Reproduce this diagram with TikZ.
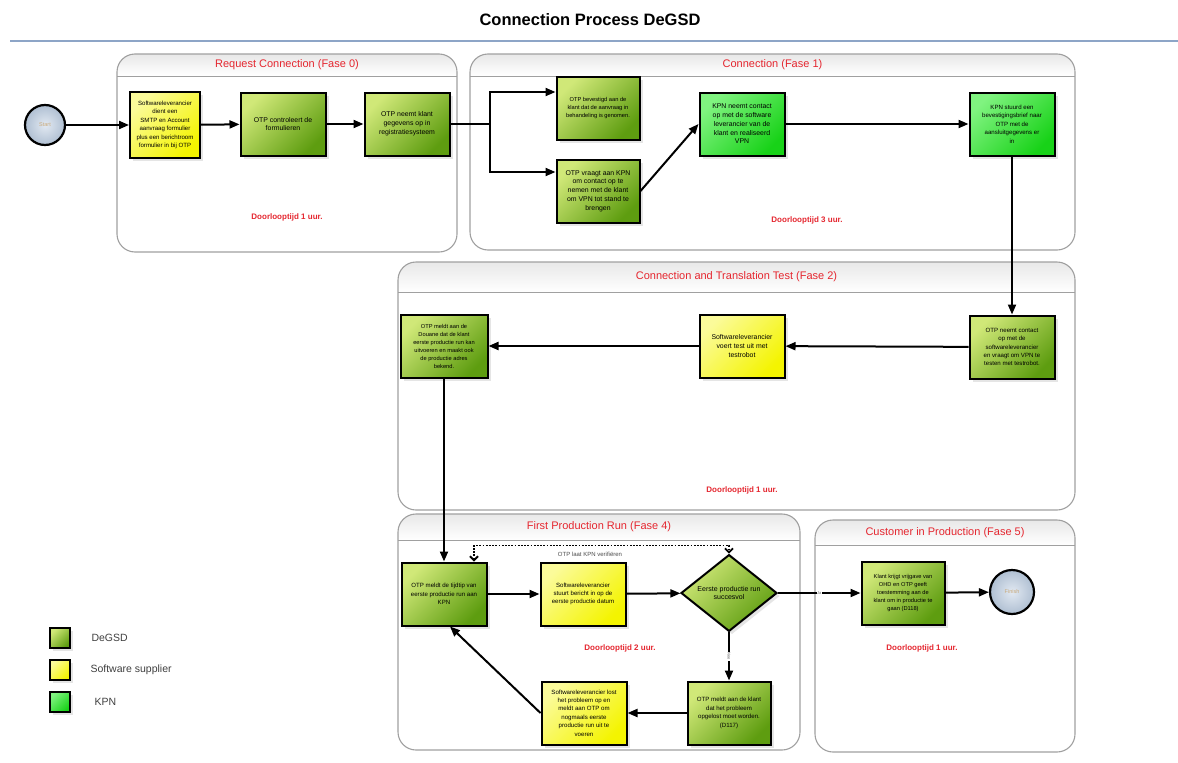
\documentclass[tikz,border=0pt]{standalone}
\usepackage{fontspec}
\setmainfont{Liberation Sans}
\usepackage{xcolor}
\usetikzlibrary{shapes.geometric, arrows.meta, positioning, calc, shadows}

\definecolor{degsdlight}{HTML}{D0E878}
\definecolor{degsddark}{HTML}{5E9D10}
\definecolor{suplight}{HTML}{FBFB9A}
\definecolor{supdark}{HTML}{F4F400}
\definecolor{kpnlight}{HTML}{80F380}
\definecolor{kpndark}{HTML}{18D218}
\definecolor{phasered}{HTML}{E5262F}
\definecolor{framegray}{HTML}{A0A0A0}
\definecolor{titleline}{HTML}{8DA5C7}
\definecolor{eventin}{HTML}{E2E9F2}
\definecolor{eventout}{HTML}{AFBFD2}
\definecolor{eventtext}{HTML}{C9A97A}

\begin{document}
\begin{tikzpicture}[x=1pt, y=-1pt,
    box/.style={draw=black, line width=2pt, align=center, inner sep=1pt,
        font=\fontsize{6.9}{8.8}\selectfont,
        drop shadow={opacity=0.2, shadow xshift=3pt, shadow yshift=-3pt}},
    std/.style={minimum width=85pt, minimum height=63pt},
    small/.style={font=\fontsize{6.1}{8.4}\selectfont},
    narrow/.style={font=\fontsize{5.7}{8}\selectfont},
    degsd/.style={box, top color=degsdlight, bottom color=degsddark, shading angle=45},
    supplier/.style={box, top color=suplight, bottom color=supdark, shading angle=45},
    kpn/.style={box, top color=kpnlight, bottom color=kpndark, shading angle=45},
    decision/.style={degsd, diamond, minimum width=96pt, minimum height=64pt, inner sep=0pt,
        font=\fontsize{7}{8.6}\selectfont},
    event/.style={circle, draw=black, line width=2.2pt, inner color=eventin, outer color=eventout,
        minimum size=40pt, font=\fontsize{5.5}{6}\selectfont, text=eventtext},
    phase/.style={draw=framegray, line width=1.1pt, rounded corners=18pt},
    phasetitle/.style={text=phasered, font=\fontsize{11}{13}\selectfont},
    duration/.style={text=phasered, font=\bfseries\fontsize{8}{10}\selectfont},
    flow/.style={draw=black, line width=2pt, -{Triangle[length=10pt, width=8pt]}},
    link/.style={draw=black, line width=2pt},
    verify/.style={draw=black, line width=1.8pt, dash pattern=on 1.8pt off 1.4pt,
        {Straight Barb[length=4pt, width=8pt]}-{Straight Barb[length=4pt, width=8pt]}},
    choice/.style={fill=white, inner sep=0.5pt, text=black!60, font=\fontsize{4}{4}\selectfont},
    legendtext/.style={text=black!75, font=\fontsize{10.5}{12}\selectfont}]

\fill[white] (0,0) rectangle (1178,763);
\useasboundingbox (0,0) rectangle (1178,763);

% Title
\node[font=\bfseries\fontsize{16.5}{18}\selectfont] (title) at (590,20) {Connection Process DeGSD};
\coordinate (ruleL) at (10,41);
\coordinate (ruleR) at (1178,41);
\draw[titleline, line width=1.8pt] (ruleL) -- (ruleR);

% Phases
\foreach \i/\xa/\ya/\xb/\yb/\hy/\name in {
    0/117/54/457/252/76/Request Connection (Fase 0),
    1/470/54/1075/250/76/Connection (Fase 1),
    2/398/262/1075/510/292/Connection and Translation Test (Fase 2),
    4/398/514/800/750/540/First Production Run (Fase 4),
    5/815/520/1075/752/545/Customer in Production (Fase 5)} {
    \begin{scope}
        \clip[rounded corners=18pt] (\xa,\ya) rectangle (\xb,\yb);
        \fill[top color=black!9, bottom color=white] (\xa,\ya) rectangle (\xb,\hy);
    \end{scope}
    \draw[phase] (\xa,\ya) rectangle (\xb,\yb);
    \draw[framegray, line width=0.8pt] (\xa,\hy) -- (\xb,\hy);
    \node[phasetitle] (title\i) at ({(\xa+\xb)/2},{(\ya+\hy)/2}) {\name};
}

% Fase 0
\node[event] (start) at (45,125) {Start};
\node[supplier, small, minimum width=70pt, minimum height=66pt] (s1) at (165,125)
    {Softwareleverancier\\dient een\\SMTP en Account\\aanvraag formulier\\plus een berichtroom\\formulier in bij OTP};
\node[degsd, std] (o1) at (283,124) {OTP controleert de\\formulieren};
\node[degsd, std] (o2) at (407,124) {OTP neemt klant\\gegevens op in\\registratiesysteem};
\node[duration] (dl0) at (287,217) {Doorlooptijd 1 uur.};

% Fase 1
\node[degsd, std, narrow, minimum width=83pt] (conf) at (598,108)
    {OTP bevestigd aan de\\klant dat de aanvraag in\\behandeling is genomen.};
\node[degsd, std, minimum width=83pt] (ask) at (598,191)
    {OTP vraagt aan KPN\\om contact op te\\nemen met de klant\\om VPN tot stand te\\brengen};
\node[kpn, std] (kpn1) at (742,124)
    {KPN neemt contact\\op met de software\\leverancier van de\\klant  en realiseerd\\VPN};
\node[kpn, std, small] (kpn2) at (1012,124)
    {KPN stuurd een\\bevestigingsbrief naar\\OTP met de\\aansluitgegevens er\\in};
\node[duration] (dl1) at (807,220) {Doorlooptijd 3 uur.};

% Fase 2
\node[degsd, std, small] (test) at (1012,347)
    {OTP neemt contact\\op met de\\softwareleverancier\\en vraagt om VPN te\\testen met testrobot.};
\node[supplier, std] (robot) at (742,346) {Softwareleverancier\\voert test uit met\\testrobot};
\node[degsd, std, narrow, minimum width=87pt] (douane) at (444,346)
    {OTP meldt aan de\\Douane dat de klant\\eerste productie run kan\\uitvoeren en maakt ook\\de productie adres\\bekend.};
\node[duration] (dl2) at (742,490) {Doorlooptijd 1 uur.};

% Fase 4
\node[degsd, std, small] (tijd) at (444,594)
    {OTP meldt de tijdtip  van\\eerste productie run aan\\KPN};
\node[supplier, std, small] (bericht) at (583,594)
    {Softwareleverancier\\stuurt bericht in op de\\eerste productie datum};
\node[decision] (succes) at (729,593) {Eerste productie run\\succesvol};
\node[degsd, std, small, minimum width=83pt] (probleem) at (729,713)
    {OTP meldt aan de klant\\dat het probleem\\opgelost moet worden.\\(D117)};
\node[supplier, std, small] (lost) at (584,713)
    {Softwareleverancier lost\\het probleem op en\\meldt aan OTP om\\nogmaals eerste\\productie run uit te\\voeren};
\node[duration] (dl4) at (620,648) {Doorlooptijd 2 uur.};
\node[text=black!70, font=\fontsize{6}{7}\selectfont] (verifylabel) at (590,554) {OTP laat KPN verifiëren};

% Fase 5
\node[degsd, std, narrow, minimum width=83pt] (vrij) at (903,593)
    {Klant krijgt  vrijgave van\\OHD en OTP geeft\\toestemming aan de\\klant om in productie te\\gaan (D118)};
\node[event, minimum size=44pt] (finish) at (1012,592) {Finish};
\node[duration] (dl5) at (922,648) {Doorlooptijd 1 uur.};

% Connectors
\coordinate (split) at (490,124);
\draw[flow] (start) -- (s1);
\draw[flow] (s1) -- (o1);
\draw[flow] (o1) -- (o2);
\draw[link] (o2) -- (split);
\draw[flow] (split) |- ([yshift=16pt]conf.west);
\draw[flow] (split) |- ([yshift=19pt]ask.west);
\draw[flow] (ask.east) -- (kpn1.west);
\draw[flow] (kpn1) -- (kpn2);
\draw[flow] (kpn2) -- (test);
\draw[flow] (test) -- (robot);
\draw[flow] (robot) -- (douane);
\draw[flow] (douane) -- (tijd);
\draw[flow] (tijd) -- (bericht);
\draw[flow] (bericht) -- (succes);
\draw[flow] (succes) -- node[choice] {Ja} (vrij);
\draw[flow] (vrij) -- (finish);
\draw[flow] (succes) -- node[choice, rotate=-90] {Nee} (probleem);
\draw[flow] (probleem) -- (lost);
\draw[flow] (lost.west) -- ([xshift=6pt]tijd.south);
\draw[verify] ([xshift=30pt]tijd.north) -- ++(0,-16) -| (succes.north);

% Legend
\node[degsd, minimum size=20pt] (legdegsd) at (60,638) {};
\node[supplier, minimum size=20pt] (legsupplier) at (60,670) {};
\node[kpn, minimum size=20pt] (legkpn) at (60,702) {};
\node[legendtext, right=17pt of legdegsd] (txtdegsd) {DeGSD};
\node[legendtext, right=16pt of legsupplier] (txtsupplier) {Software supplier};
\node[legendtext, right=20pt of legkpn] (txtkpn) {KPN};
\end{tikzpicture}
\end{document}
